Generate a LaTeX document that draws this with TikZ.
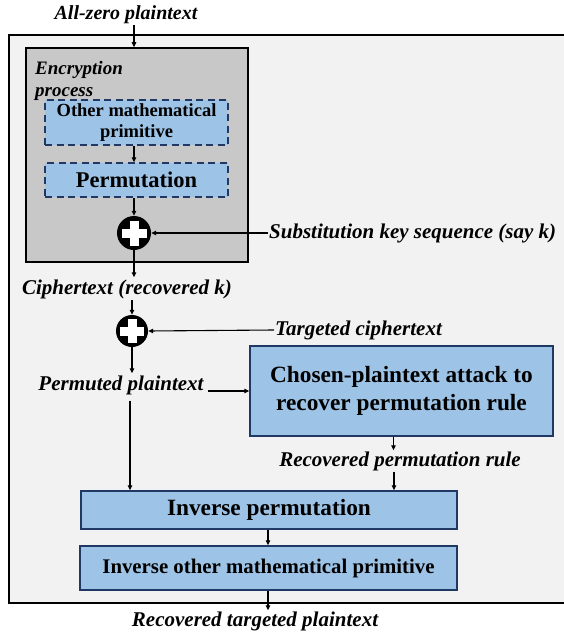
\documentclass[tikz,border=0pt]{standalone}
\usepackage{fontspec}
\setmainfont{Liberation Serif}
\usetikzlibrary{arrows.meta}
\definecolor{outergray}{HTML}{F2F2F2}
\definecolor{encgray}{HTML}{C8C8C8}
\definecolor{boxblue}{HTML}{9DC3E6}
\definecolor{boxborder}{HTML}{203864}
\begin{document}
\begin{tikzpicture}[x=1pt,y=-1pt,
  lbl/.style={font=\bfseries\itshape\fontsize{21}{24}\selectfont, inner sep=1pt},
  arr/.style={-{Triangle[length=5pt,width=4.5pt]}, line width=1.1pt},
  bluebox/.style={draw=boxborder, fill=boxblue, line width=1.4pt, align=center, inner sep=0pt},
  dbox/.style={draw=boxborder, fill=boxblue, dash pattern=on 7pt off 4.5pt, line width=1.4pt, align=center, inner sep=0pt},
  xorc/.style={circle, fill=black, minimum size=34pt, inner sep=0pt},
  plusbar/.style={fill=white},
]
\useasboundingbox (0,0) rectangle (564,634);
\path[draw=black, line width=1.3pt, fill=outergray] (9,35) rectangle (572,603);
\node[draw=black, fill=encgray, line width=1.5pt, minimum width=222pt, minimum height=214pt, inner sep=0pt] (enc) at (137,155) {};
\node[lbl, anchor=north west, align=left, font=\bfseries\itshape\fontsize{19}{22}\selectfont] (encl) at (34,60) {Encryption\\process};
\node[dbox, minimum width=183pt, minimum height=45pt, font=\bfseries\fontsize{18.5}{20.5}\selectfont] (p1) at (136.5,122.5) {Other mathematical\\primitive};
\node[dbox, minimum width=183pt, minimum height=34pt, font=\bfseries\fontsize{22.5}{25}\selectfont] (p2) at (136.5,180) {Permutation};
\node[xorc] (c1) at (134,233) {};
\fill[plusbar] ([xshift=-12.5,yshift=-4.5]c1.center) rectangle ([xshift=12.5,yshift=4.5]c1.center);
\fill[plusbar] ([xshift=-4.5,yshift=-12.5]c1.center) rectangle ([xshift=4.5,yshift=12.5]c1.center);
\node[lbl, anchor=west] (sub) at (268,233) {Substitution key sequence (say k)};
\node[lbl] (ct) at (127,289) {Ciphertext (recovered k)};
\node[xorc, minimum size=32pt] (c2) at (132,331) {};
\fill[plusbar] ([xshift=-12,yshift=-4.5]c2.center) rectangle ([xshift=12,yshift=4.5]c2.center);
\fill[plusbar] ([xshift=-4.5,yshift=-12]c2.center) rectangle ([xshift=4.5,yshift=12]c2.center);
\node[lbl, anchor=west] (tc) at (274,330) {Targeted ciphertext};
\node[lbl] (pp) at (121,385) {Permuted plaintext};
\node[bluebox, minimum width=303pt, minimum height=90pt, font=\bfseries\fontsize{23.3}{28}\selectfont] (cpa) at (401.5,391) {Chosen-plaintext attack to\\recover permutation rule};
\node[lbl] (rpr) at (400,461) {Recovered permutation rule};
\node[bluebox, minimum width=376pt, minimum height=38pt, font=\bfseries\fontsize{23.3}{26}\selectfont] (ip) at (269,510) {Inverse permutation};
\node[bluebox, minimum width=377pt, minimum height=44pt, font=\bfseries\fontsize{20.8}{23}\selectfont] (iomp) at (268.5,568) {Inverse other mathematical primitive};
\node[lbl] (rtp) at (255,621) {Recovered targeted plaintext};
\node[lbl, font=\bfseries\itshape\fontsize{20}{23}\selectfont] (azp) at (126,15) {All-zero plaintext};
\coordinate (xc) at (268,0);
\coordinate (ppe) at ([xshift=3,yshift=-6]pp.east);
% connectors
\draw[arr] (azp.south -| c1) -- (c1 |- enc.north);
\draw[arr] (p1.south -| c1) -- (p2.north -| c1);
\draw[arr] (p2.south -| c1) -- (c1.north);
\draw[arr] (sub.west) -- (c1.east);
\draw[arr] (c1.south) -- ([yshift=1]c1 |- ct.north);
\draw[arr] (ct.south -| c2) -- (c2.north);
\draw[arr] (tc.west) -- (c2.east);
\draw[arr] (c2.south) -- ([yshift=1]c2 |- pp.north);
\draw[arr] (ppe) -- (cpa.west |- ppe);
\coordinate (ppd) at ([xshift=9,yshift=-5]pp.south);
\draw[arr] (ppd) -- (ppd |- ip.north);
\coordinate (cpad) at ([xshift=-8]cpa.south);
\draw[arr] (cpad) -- (cpad |- rpr.north);
\coordinate (rprd) at ([xshift=-6]rpr.south);
\draw[arr] (rprd) -- (rprd |- ip.north);
\draw[arr] (ip.south -| xc) -- (iomp.north -| xc);
\draw[arr] (iomp.south -| xc) -- (rtp.north -| xc);
\end{tikzpicture}
\end{document}
